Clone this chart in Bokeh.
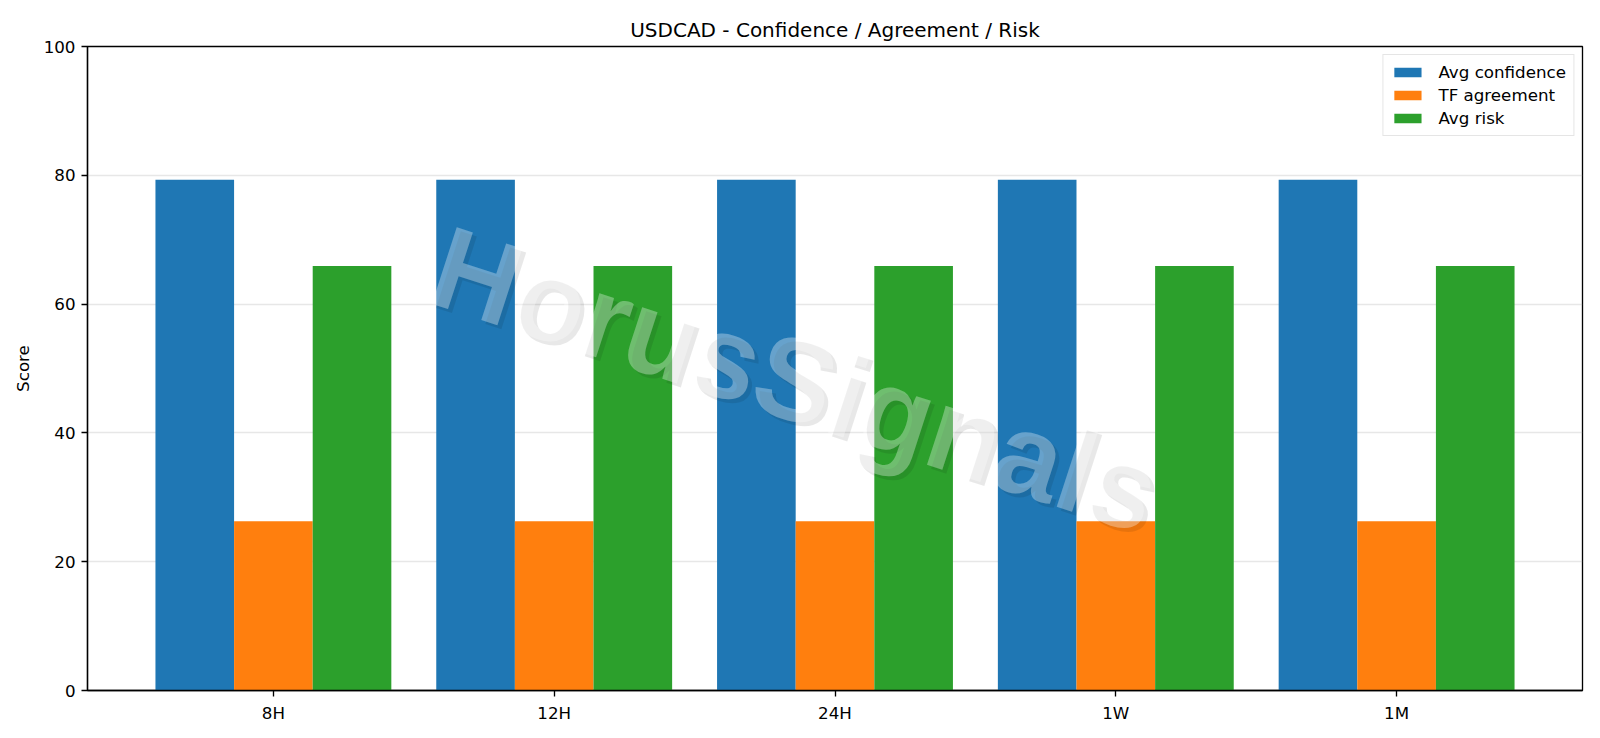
from bokeh.plotting import figure
from bokeh.models import ColumnDataSource, Range1d, FixedTicker, Label, Legend, LegendItem
from bokeh.embed import file_html
from bokeh.resources import INLINE
import numpy as np

# Data
timeframes = ['8H', '12H', '24H', '1W', '1M']
avg_confidence = [79.3, 79.3, 79.3, 79.3, 79.3]
tf_agreement = [26.3, 26.3, 26.3, 26.3, 26.3]
avg_risk = [65.9, 65.9, 65.9, 65.9, 65.9]
y_ticks = [0, 20, 40, 60, 80, 100]

idx = np.arange(len(timeframes))
bar_width = 0.28

source = ColumnDataSource(dict(
    x_conf=idx - bar_width,
    x_agree=idx,
    x_risk=idx + bar_width,
    conf=avg_confidence,
    agree=tf_agreement,
    risk=avg_risk,
))

font = "DejaVu Sans"

p = figure(width=1592, height=730, output_backend="svg", toolbar_location=None,
           x_range=Range1d(-0.662, len(timeframes) - 1 + 0.662),
           y_range=Range1d(0, 100),
           min_border_left=87, min_border_right=10,
           min_border_top=46, min_border_bottom=40,
           title="USDCAD - Confidence / Agreement / Risk")

r1 = p.vbar(x='x_conf', top='conf', width=bar_width, source=source,
            fill_color="#1f77b4", line_color=None)
r2 = p.vbar(x='x_agree', top='agree', width=bar_width, source=source,
            fill_color="#ff7f0e", line_color=None)
r3 = p.vbar(x='x_risk', top='risk', width=bar_width, source=source,
            fill_color="#2ca02c", line_color=None)

# title
p.title.align = "center"
p.title.text_font = font
p.title.text_font_size = "20px"
p.title.text_font_style = "normal"
p.title.text_color = "black"

# axes
p.xaxis.ticker = FixedTicker(ticks=list(idx))
p.xaxis.major_label_overrides = {int(i): t for i, t in zip(idx, timeframes)}
p.yaxis.ticker = FixedTicker(ticks=y_ticks)
p.yaxis.axis_label = "Score"
for ax in (p.xaxis[0], p.yaxis[0]):
    ax.axis_line_color = "black"
    ax.axis_line_width = 1.33
    ax.major_tick_line_color = "black"
    ax.major_tick_line_width = 1.33
    ax.major_tick_out = 6
    ax.major_tick_in = 0
    ax.minor_tick_line_color = None
    ax.major_label_text_font = font
    ax.major_label_text_font_size = "16.7px"
    ax.major_label_text_color = "black"
    ax.major_label_standoff = 6
    ax.axis_label_text_font = font
    ax.axis_label_text_font_size = "16.7px"
    ax.axis_label_text_font_style = "normal"
    ax.axis_label_text_color = "black"
p.yaxis.axis_label_standoff = 8

p.xgrid.grid_line_color = None
p.ygrid.grid_line_color = "#b0b0b0"
p.ygrid.grid_line_alpha = 0.3
p.ygrid.grid_line_width = 1.33

p.outline_line_color = "black"
p.outline_line_width = 1.33
p.outline_line_alpha = 1.0

# legend
legend = Legend(items=[
    LegendItem(label="Avg confidence", renderers=[r1]),
    LegendItem(label="TF agreement", renderers=[r2]),
    LegendItem(label="Avg risk", renderers=[r3]),
], location="top_right")
legend.label_text_font = font
legend.label_text_font_size = "16.7px"
legend.label_text_color = "black"
legend.glyph_width = 34
legend.glyph_height = 12
legend.label_height = 20
legend.label_standoff = 14
legend.spacing = 3
legend.padding = 7
legend.margin = 8
legend.border_line_color = "#cccccc"
legend.border_line_width = 1.33
legend.background_fill_alpha = 0.8
p.add_layout(legend)

# watermark with a soft shadow
wm_x = 1.86
wm_y = 48.3
shadow = Label(x=wm_x, y=wm_y, x_offset=4, y_offset=-4, text="HorusSignals",
               angle=-18, angle_units="deg", text_align="center", text_baseline="middle",
               text_font="Liberation Sans", text_font_size="117px", text_font_style="bold",
               text_color="black", text_alpha=0.09)
mark = Label(x=wm_x, y=wm_y, text="HorusSignals",
             angle=-18, angle_units="deg", text_align="center", text_baseline="middle",
             text_font="Liberation Sans", text_font_size="117px", text_font_style="bold",
             text_color="white", text_alpha=0.32)
p.add_layout(shadow)
p.add_layout(mark)

open("out.html", "w").write(file_html(p, INLINE))
